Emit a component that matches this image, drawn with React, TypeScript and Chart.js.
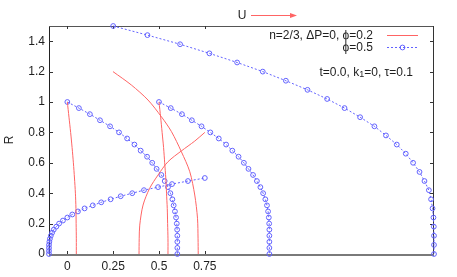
import { useEffect, useRef } from 'react';
import { Chart, registerables } from 'chart.js';

Chart.register(...registerables);

// ---- axis ticks ----
const X_TICKS = [0, 0.25, 0.5, 0.75];
const Y_TICKS = [0, 0.2, 0.4, 0.6, 0.8, 1, 1.2, 1.4];
const X_MIN = -0.1;
const X_MAX = 2.0;
const Y_MIN = 0;
const Y_MAX = 1.5;

// ---- series "phi=0.5" (blue, points) ----
const PHI05_C1_Y = [1.0, 0.96, 0.92, 0.88, 0.84, 0.8, 0.76, 0.72, 0.68, 0.64, 0.6, 0.56, 0.52, 0.48, 0.44, 0.4, 0.36, 0.32, 0.28, 0.24, 0.2, 0.16, 0.12, 0.08, 0.04, 0.0];
const PHI05_C1_X = [0, 0.063, 0.123, 0.178, 0.233, 0.282, 0.326, 0.366, 0.4, 0.435, 0.463, 0.487, 0.513, 0.531, 0.549, 0.562, 0.573, 0.58, 0.587, 0.593, 0.597, 0.599, 0.6, 0.6, 0.6, 0.6];
const PHI05_C2_Y = [1.0, 0.96, 0.92, 0.88, 0.84, 0.8, 0.76, 0.72, 0.68, 0.64, 0.6, 0.56, 0.52, 0.48, 0.44, 0.4, 0.36, 0.32, 0.28, 0.24, 0.2, 0.16, 0.12, 0.08, 0.04, 0.0];
const PHI05_C2_X = [0.5, 0.564, 0.625, 0.679, 0.732, 0.78, 0.826, 0.866, 0.9, 0.934, 0.963, 0.988, 1.013, 1.034, 1.053, 1.068, 1.08, 1.089, 1.095, 1.099, 1.101, 1.102, 1.102, 1.102, 1.102, 1.102];
const PHI05_C3_Y = [1.5, 1.44, 1.38, 1.32, 1.26, 1.2, 1.14, 1.08, 1.02, 0.96, 0.9, 0.84, 0.78, 0.72, 0.66, 0.6, 0.54, 0.48, 0.42, 0.36, 0.3, 0.24, 0.18, 0.12, 0.06, 0.0];
const PHI05_C3_X = [0.25, 0.437, 0.615, 0.775, 0.926, 1.066, 1.192, 1.31, 1.417, 1.512, 1.597, 1.675, 1.738, 1.797, 1.846, 1.886, 1.921, 1.948, 1.972, 1.984, 1.992, 1.997, 1.999, 2.0, 2.0, 2.0];
const PHI05_C4_Y = [0, 0.02, 0.04, 0.06, 0.08, 0.1, 0.12, 0.14, 0.16, 0.18, 0.2, 0.22, 0.24, 0.26, 0.28, 0.3, 0.32, 0.34, 0.36, 0.38, 0.4, 0.42, 0.44, 0.46, 0.48, 0.5];
const PHI05_C4_X = [-0.1, -0.1, -0.1, -0.1, -0.098, -0.095, -0.09, -0.083, -0.074, -0.06, -0.045, -0.024, 0.0, 0.027, 0.058, 0.094, 0.139, 0.185, 0.236, 0.291, 0.354, 0.418, 0.495, 0.571, 0.658, 0.75];

// ---- series "n=2/3, dP=0, phi=0.2" (red, lines) ----
const PHI02_C1_Y = [1.0, 0.9, 0.8, 0.7, 0.6, 0.5, 0.4, 0.3, 0.2, 0.1, 0];
const PHI02_C1_X = [0, 0.009, 0.018, 0.026, 0.033, 0.039, 0.044, 0.047, 0.048, 0.049, 0.049];
const PHI02_C2_Y = [1.0, 0.9, 0.8, 0.7, 0.6, 0.5, 0.4, 0.3, 0.2, 0.1, 0];
const PHI02_C2_X = [0.5, 0.509, 0.517, 0.525, 0.531, 0.537, 0.541, 0.545, 0.547, 0.549, 0.549];
const PHI02_C3_Y = [1.2, 1.112, 1.013, 0.903, 0.805, 0.673, 0.541, 0.388, 0.235, 0.1, 0];
const PHI02_C3_X = [0.249, 0.349, 0.44, 0.513, 0.568, 0.622, 0.668, 0.695, 0.71, 0.713, 0.714];
const PHI02_C4_Y = [0, 0.1, 0.19, 0.322, 0.432, 0.52, 0.607, 0.678, 0.743, 0.8];
const PHI02_C4_X = [0.391, 0.392, 0.395, 0.413, 0.449, 0.495, 0.549, 0.622, 0.695, 0.75];

// ---- texts ----
const LEGEND_RED = 'n=2/3, \u0394P=0, \u03D5=0.2';
const LEGEND_BLUE = '\u03D5=0.5';
const Y_TITLE = 'R';
const ARROW_LABEL = 'U';

const FONT = "'Liberation Sans', Arial, Helvetica, sans-serif";
const RED = '#ff6464';
const BLUE = '#6262ff';
const TEXT = '#1e1e1e';

function pts(xs: number[], ys: number[]) {
  return xs.map((x, i) => ({ x, y: ys[i] }));
}

function fmt(v: number) {
  return String(Math.round(v * 100) / 100);
}

export default function App() {
  const ref = useRef<HTMLCanvasElement>(null);

  useEffect(() => {
    if (!ref.current) return;

    const redDs = (xs: number[], ys: number[]) => ({
      data: pts(xs, ys),
      showLine: true,
      borderColor: RED,
      borderWidth: 1,
      pointRadius: 0,
      pointHoverRadius: 0,
      tension: 0.3,
      clip: false,
    });
    const blueDs = (xs: number[], ys: number[]) => ({
      data: pts(xs, ys),
      showLine: true,
      borderColor: BLUE,
      borderWidth: 1,
      borderDash: [2, 2],
      pointRadius: 2.4,
      pointHoverRadius: 2.4,
      pointBorderWidth: 1,
      pointBorderColor: BLUE,
      pointBackgroundColor: 'rgba(0,0,0,0)',
      tension: 0,
      clip: false,
    });

    const line = (ctx: CanvasRenderingContext2D, x1: number, y1: number, x2: number, y2: number) => {
      ctx.beginPath();
      ctx.moveTo(x1, y1);
      ctx.lineTo(x2, y2);
      ctx.stroke();
    };

    const decor = {
      id: 'decor',
      beforeDatasetsDraw(chart: any) {
        const ctx: CanvasRenderingContext2D = chart.ctx;
        const { left, right, top, bottom } = chart.chartArea;
        const xs = chart.scales.x;
        const ys = chart.scales.y;
        ctx.save();
        ctx.lineWidth = 1;
        // frame
        ctx.strokeStyle = '#222';
        line(ctx, left + 0.5, top, left + 0.5, bottom);
        ctx.strokeStyle = '#555';
        line(ctx, left, top + 0.5, right, top + 0.5);
        ctx.strokeStyle = '#333';
        line(ctx, right - 0.5, top, right - 0.5, bottom);
        // inward ticks
        ctx.strokeStyle = '#333';
        Y_TICKS.forEach((v) => {
          const p = Math.round(ys.getPixelForValue(v)) + 0.5;
          line(ctx, left, p, left + 4, p);
          line(ctx, right - 4, p, right, p);
        });
        X_TICKS.forEach((v) => {
          const p = Math.round(xs.getPixelForValue(v)) + 0.5;
          line(ctx, p, bottom, p, bottom - 3);
          line(ctx, p, top, p, top + 3);
        });
        ctx.strokeStyle = '#7a7a7a';
        ctx.lineWidth = 2;
        line(ctx, left, bottom + 1, right, bottom + 1);
        ctx.restore();
      },
      afterDraw(chart: any) {
        const ctx: CanvasRenderingContext2D = chart.ctx;
        ctx.save();
        ctx.fillStyle = TEXT;
        ctx.font = `12px ${FONT}`;
        ctx.textBaseline = 'middle';
        ctx.textAlign = 'right';
        // legend
        ctx.fillText(LEGEND_RED, 373, 36);
        ctx.fillText(LEGEND_BLUE, 373, 48);
        ctx.lineWidth = 1;
        ctx.strokeStyle = RED;
        line(ctx, 387, 35.5, 418, 35.5);
        ctx.strokeStyle = BLUE;
        ctx.setLineDash([2, 2]);
        line(ctx, 387, 47.5, 418, 47.5);
        ctx.setLineDash([]);
        ctx.beginPath();
        ctx.arc(402.5, 47.5, 2.4, 0, Math.PI * 2);
        ctx.stroke();

        // parameter text with subscript
        const parts: [string, boolean][] = [
          ['t=0.0, k', false],
          ['1', true],
          ['=0, \u03C4=0.1', false],
        ];
        const big = `12px ${FONT}`;
        const small = `9px ${FONT}`;
        let total = 0;
        parts.forEach(([s, sub]) => {
          ctx.font = sub ? small : big;
          total += ctx.measureText(s).width;
        });
        let x = 413 - total;
        ctx.textAlign = 'left';
        parts.forEach(([s, sub]) => {
          ctx.font = sub ? small : big;
          ctx.fillText(s, x, sub ? 75 : 72.5);
          x += ctx.measureText(s).width;
        });

        // U arrow
        ctx.font = `12px ${FONT}`;
        ctx.textAlign = 'center';
        ctx.fillText(ARROW_LABEL, 242, 16);
        ctx.strokeStyle = RED;
        ctx.fillStyle = RED;
        line(ctx, 251, 15.5, 292, 15.5);
        ctx.beginPath();
        ctx.moveTo(297, 15.5);
        ctx.lineTo(290, 13);
        ctx.lineTo(290, 18);
        ctx.closePath();
        ctx.fill();

        // y title
        ctx.fillStyle = TEXT;
        ctx.font = `12px ${FONT}`;
        ctx.translate(10, 140);
        ctx.rotate(-Math.PI / 2);
        ctx.textAlign = 'center';
        ctx.fillText(Y_TITLE, 0, 0);
        ctx.restore();
      },
    };

    const chart = new Chart(ref.current, {
      type: 'scatter',
      data: {
        datasets: [
          redDs(PHI02_C1_X, PHI02_C1_Y),
          redDs(PHI02_C2_X, PHI02_C2_Y),
          redDs(PHI02_C3_X, PHI02_C3_Y),
          redDs(PHI02_C4_X, PHI02_C4_Y),
          blueDs(PHI05_C1_X, PHI05_C1_Y),
          blueDs(PHI05_C2_X, PHI05_C2_Y),
          blueDs(PHI05_C3_X, PHI05_C3_Y),
          blueDs(PHI05_C4_X, PHI05_C4_Y),
        ] as any,
      },
      options: {
        animation: false,
        responsive: false,
        devicePixelRatio: 1,
        events: [],
        layout: { padding: { top: 26, right: 23, left: 0, bottom: 0 } },
        plugins: { legend: { display: false }, tooltip: { enabled: false } },
        scales: {
          x: {
            type: 'linear',
            min: X_MIN,
            max: X_MAX,
            grid: { display: false, drawTicks: false },
            border: { display: false },
            afterBuildTicks: (s: any) => {
              s.ticks = X_TICKS.map((v) => ({ value: v }));
            },
            afterFit: (s: any) => {
              s.height = 23;
            },
            ticks: {
              padding: 5,
              autoSkip: false,
              maxRotation: 0,
              color: TEXT,
              font: { family: FONT, size: 12 },
              callback: (v: any) => fmt(Number(v)),
            },
          },
          y: {
            type: 'linear',
            min: Y_MIN,
            max: Y_MAX,
            grid: { display: false, drawTicks: false },
            border: { display: false },
            afterBuildTicks: (s: any) => {
              s.ticks = Y_TICKS.map((v) => ({ value: v }));
            },
            afterFit: (s: any) => {
              s.width = 49;
            },
            ticks: {
              padding: 4,
              autoSkip: false,
              color: TEXT,
              font: { family: FONT, size: 12 },
              callback: (v: any) => fmt(Number(v)),
            },
          },
        },
      } as any,
      plugins: [decor],
    });

    return () => chart.destroy();
  }, []);

  return (
    <div style={{ position: 'absolute', left: 0, top: 0, width: 457, height: 277, background: '#fff' }}>
      <canvas ref={ref} width={457} height={277} style={{ display: 'block' }} />
    </div>
  );
}
